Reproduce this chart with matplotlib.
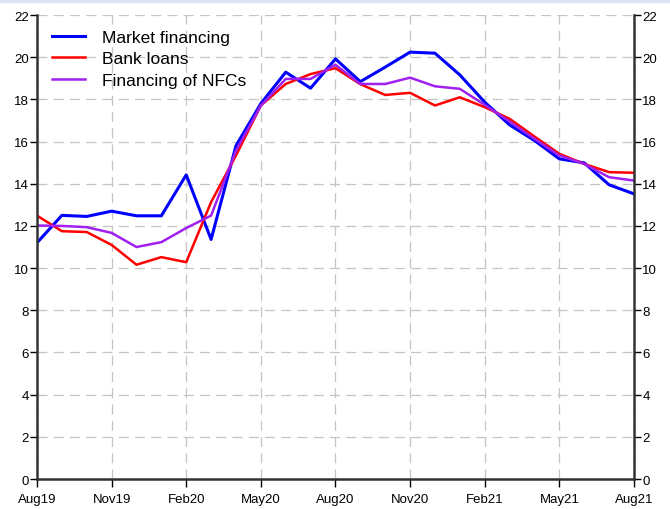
import numpy as np
import matplotlib.pyplot as plt
from matplotlib.patches import Rectangle

plt.rcParams['font.family'] = ['Liberation Sans', 'DejaVu Sans']

# Monthly data, Aug19 .. Aug21
months = ['Aug19', 'Sep19', 'Oct19', 'Nov19', 'Dec19', 'Jan20', 'Feb20', 'Mar20', 'Apr20',
          'May20', 'Jun20', 'Jul20', 'Aug20', 'Sep20', 'Oct20', 'Nov20', 'Dec20', 'Jan21',
          'Feb21', 'Mar21', 'Apr21', 'May21', 'Jun21', 'Jul21', 'Aug21']
market_financing = [11.2, 12.5, 12.45, 12.7, 12.48, 12.48, 14.42, 11.36, 15.8, 17.8, 19.29, 18.53,
                    19.92, 18.84, 19.53, 20.24, 20.19, 19.16, 17.87, 16.79, 16.05, 15.18, 14.99,
                    13.95, 13.52]
bank_loans = [12.49, 11.75, 11.71, 11.1, 10.16, 10.52, 10.28, 13.13, 15.34, 17.71, 18.73, 19.2,
              19.48, 18.72, 18.21, 18.31, 17.71, 18.1, 17.63, 17.08, 16.24, 15.42, 14.94,
              14.55, 14.52]
financing_nfcs = [12.02, 12.0, 11.94, 11.67, 11.0, 11.23, 11.9, 12.49, 15.57, 17.7, 18.97, 18.97,
                  19.64, 18.73, 18.73, 19.03, 18.62, 18.5, 17.74, 16.95, 16.13, 15.34, 14.94,
                  14.31, 14.15]
tick_labels = ['Aug19', 'Nov19', 'Feb20', 'May20', 'Aug20', 'Nov20', 'Feb21', 'May21', 'Aug21']


def main():
    fig = plt.figure(figsize=(6.7, 5.1), dpi=100)
    # light band at the very top
    fig.patches.append(Rectangle((0, 0.994), 1, 0.006, transform=fig.transFigure,
                                 color='#dce6f2', zorder=0))
    ax = fig.add_axes([0.0552, 0.0588, 0.8910, 0.9098])

    x = np.arange(len(months))
    ax.plot(x, market_financing, color='#0000ff', lw=2.2, label='Market financing')
    ax.plot(x, bank_loans, color='#ff0000', lw=1.8, label='Bank loans')
    ax.plot(x, financing_nfcs, color='#a020f0', lw=1.8, label='Financing of NFCs')

    ax.set_xlim(0, len(months) - 1)
    ax.set_ylim(0, 22)
    ax.set_xticks(x[::3])
    ax.set_xticklabels(tick_labels, fontsize=9.5)
    ax.set_yticks(np.arange(0, 23, 2))
    ax.tick_params(axis='y', labelsize=9.5, direction='out', length=5, width=1,
                   right=True, labelright=True, pad=1)
    ax.tick_params(axis='x', direction='out', length=6, width=1, pad=4)

    ax.grid(True, linestyle=(0, (8, 5)), color='#c4c4c4', lw=0.9)
    ax.spines['top'].set_visible(False)
    for s in ['left', 'right', 'bottom']:
        ax.spines[s].set_linewidth(1.8)
        ax.spines[s].set_color('#333333')

    ax.legend(loc='upper left', bbox_to_anchor=(0.0246, 0.968), frameon=False, fontsize=12.5,
              handlelength=1.9, borderaxespad=0, borderpad=0, labelspacing=0.36,
              handletextpad=1.0)

    plt.savefig('out.png', dpi=100)


if __name__ == "__main__":
    main()
